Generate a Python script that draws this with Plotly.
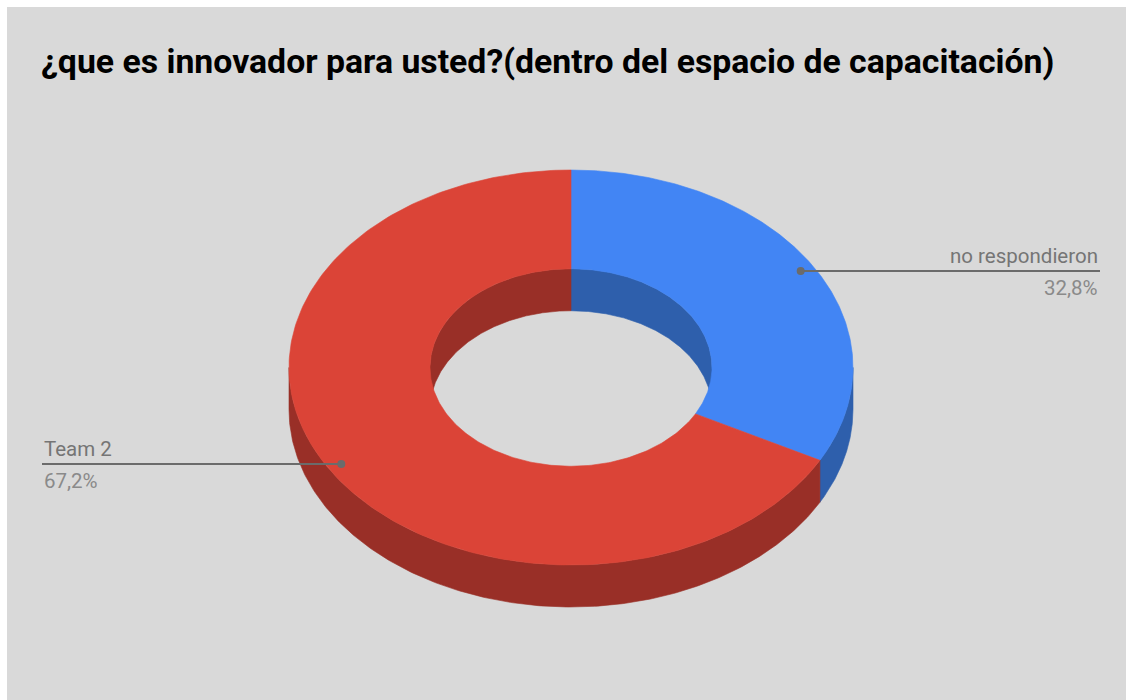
import numpy as np
import plotly.graph_objects as go

# ---------------- data ----------------
labels = ["no respondieron", "Team 2"]
values = [20, 41]
colors_top = ["#4285f4", "#db4437"]
colors_side = ["#2e5fac", "#992f27"]
title_text = "¿que es innovador para usted?(dentro del espacio de capacitación)"

# ---------------- geometry / style ----------------
W, H = 1126, 700
CX, CY = 571, 367.5
RX, RY = 282, 197.5
HOLE = 0.5
DEPTH = 42
LABEL_R = 0.95
N = 240
FONT = "Roboto"
TXT_COLOR = "#757575"
LINE_COLOR = "#6b6b6b"

total = float(sum(values))
fracs = [v / total for v in values]

slices = []
a = 90.0
for f in fracs:
    slices.append((a, a - 360.0 * f))
    a = a - 360.0 * f


def arc(t0, t1, r, dy=0.0):
    t = np.radians(np.linspace(t0, t1, N))
    return CX + r * RX * np.cos(t), CY - r * RY * np.sin(t) + dy


def poly_trace(xs, ys, color):
    return go.Scatter(
        x=np.append(xs, xs[0]), y=np.append(ys, ys[0]),
        mode="lines", fill="toself", fillcolor=color,
        line=dict(color=color, width=0.6),
        hoverinfo="skip", showlegend=False,
    )


def visible_parts(a0, a1, vlo, vhi):
    parts = []
    for k in range(-2, 3):
        lo = max(a1, vlo + 360 * k)
        hi = min(a0, vhi + 360 * k)
        if hi > lo:
            parts.append((lo, hi))
    return parts


fig = go.Figure()

# inner (back) walls seen through the hole
for (a0, a1), c in zip(slices, colors_side):
    for lo, hi in visible_parts(a0, a1, 0, 180):
        x1, y1 = arc(lo, hi, HOLE)
        x2, y2 = arc(hi, lo, HOLE, DEPTH)
        fig.add_trace(poly_trace(np.concatenate([x1, x2]), np.concatenate([y1, y2]), c))

# outer (front) walls
for (a0, a1), c in zip(slices, colors_side):
    for lo, hi in visible_parts(a0, a1, -180, 0):
        x1, y1 = arc(lo, hi, 1.0)
        x2, y2 = arc(hi, lo, 1.0, DEPTH)
        fig.add_trace(poly_trace(np.concatenate([x1, x2]), np.concatenate([y1, y2]), c))

# top faces
for (a0, a1), c in zip(slices, colors_top):
    x1, y1 = arc(a0, a1, 1.0)
    x2, y2 = arc(a1, a0, HOLE)
    fig.add_trace(poly_trace(np.concatenate([x1, x2]), np.concatenate([y1, y2]), c))

annotations = []
# leader lines and labels
for (a0, a1), lab, f in zip(slices, labels, fracs):
    mid = np.radians((a0 + a1) / 2.0)
    dx = CX + LABEL_R * RX * np.cos(mid)
    dy = CY - LABEL_R * RY * np.sin(mid)
    right = np.cos(mid) > 0
    ex = 1100 if right else 42
    fig.add_trace(go.Scatter(
        x=[dx, ex], y=[dy, dy], mode="lines",
        line=dict(color=LINE_COLOR, width=2),
        hoverinfo="skip", showlegend=False))
    fig.add_trace(go.Scatter(
        x=[dx], y=[dy], mode="markers",
        marker=dict(color=LINE_COLOR, size=8),
        hoverinfo="skip", showlegend=False))
    pct = f"{100 * f:.1f}".replace(".", ",") + "%"
    anchor = "right" if right else "left"
    annotations.append(dict(
        x=ex, y=dy - 15, xref="x", yref="y", text=lab, showarrow=False,
        xanchor=anchor, yanchor="middle",
        font=dict(family=FONT, size=20.5, color=TXT_COLOR)))
    annotations.append(dict(
        x=ex, y=dy + 17, xref="x", yref="y", text=pct, showarrow=False,
        xanchor=anchor, yanchor="middle",
        font=dict(family=FONT, size=20.5, color="#8a8a8a")))

annotations.append(dict(
    x=39, y=61, xref="x", yref="y", text="<b>" + title_text + "</b>",
    showarrow=False, xanchor="left", yanchor="middle",
    font=dict(family=FONT, size=33.8, color="#000000")))

fig.update_layout(
    width=W, height=H,
    margin=dict(l=0, r=0, t=0, b=0),
    paper_bgcolor="#ffffff",
    plot_bgcolor="rgba(0,0,0,0)",
    showlegend=False,
    xaxis=dict(range=[0, W], visible=False, fixedrange=True),
    yaxis=dict(range=[H, 0], visible=False, fixedrange=True),
    shapes=[dict(type="rect", xref="x", yref="y", x0=7, y0=7, x1=W, y1=H,
                 fillcolor="#d9d9d9", line=dict(width=0), layer="below")],
    annotations=annotations,
)

fig.write_html("out.html", config={"displayModeBar": False})
